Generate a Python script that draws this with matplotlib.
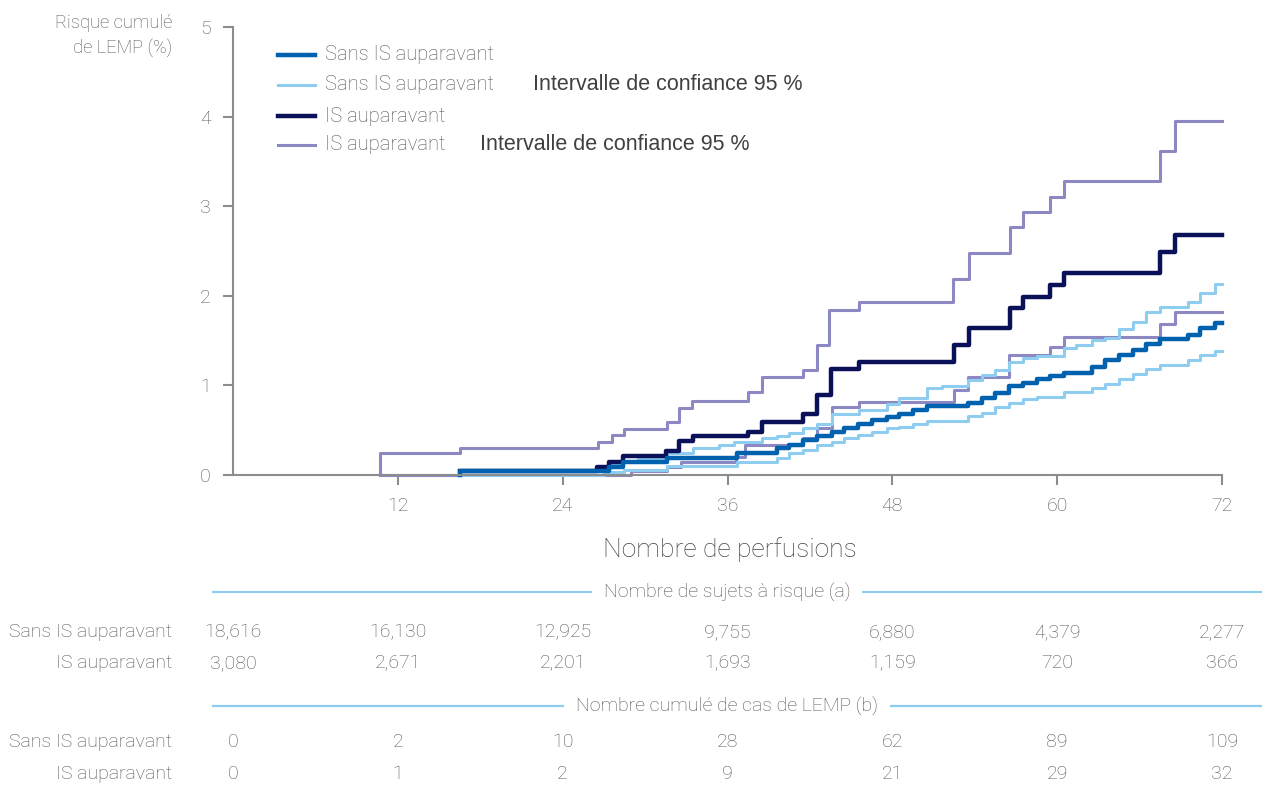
import matplotlib.pyplot as plt
from matplotlib.lines import Line2D
from matplotlib.transforms import blended_transform_factory

# step curves (x = nombre de perfusions, y = risque %)
sans_x = [16.5, 16.5, 27.4, 28.4, 31.6, 36.7, 39.6, 40.5, 41.5, 42.5, 43.6, 44.5, 45.5,
          46.5, 47.6, 48.5, 49.5, 50.5, 51.5, 53.5, 54.5, 55.5, 56.5, 57.5, 58.5, 59.5,
          60.5, 62.5, 63.5, 64.5, 65.5, 66.5, 67.5, 69.5, 70.4, 71.5, 72]
sans_y = [0, 0.04, 0.09, 0.14, 0.19, 0.24, 0.30, 0.33, 0.39, 0.44, 0.48, 0.52, 0.57,
          0.61, 0.65, 0.68, 0.73, 0.77, 0.77, 0.80, 0.86, 0.91, 0.99, 1.03, 1.07, 1.10,
          1.14, 1.21, 1.28, 1.34, 1.40, 1.46, 1.52, 1.56, 1.64, 1.70, 1.70]

sans_hi_x = [16.5, 26.5, 27.5, 28.4, 29.5, 31.6, 33.5, 35.4, 36.5, 38.5, 39.6, 40.5, 41.5,
             42.5, 43.6, 45.6, 47.6, 48.5, 50.5, 51.6, 53.5, 54.5, 55.5, 56.5, 57.5, 58.5,
             60.5, 61.4, 62.5, 63.5, 64.5, 65.5, 66.5, 67.5, 69.5, 70.4, 71.5, 72]
sans_hi_y = [0.05, 0.08, 0.11, 0.16, 0.19, 0.24, 0.30, 0.34, 0.37, 0.41, 0.44, 0.47, 0.52,
             0.57, 0.68, 0.73, 0.79, 0.86, 0.97, 0.99, 1.06, 1.12, 1.17, 1.26, 1.31, 1.33,
             1.42, 1.45, 1.51, 1.53, 1.63, 1.71, 1.82, 1.87, 1.93, 2.03, 2.13, 2.13]

sans_lo_x = [16.5, 27.0, 28.5, 31.6, 36.7, 39.6, 40.5, 41.5, 42.5, 43.6, 44.5, 45.5, 46.5,
             47.6, 48.5, 49.5, 50.5, 53.5, 54.5, 55.5, 56.5, 57.5, 58.5, 60.5, 62.5, 63.5,
             64.5, 65.5, 66.5, 67.5, 69.5, 70.4, 71.5, 72]
sans_lo_y = [0.005, 0.03, 0.06, 0.10, 0.15, 0.19, 0.24, 0.28, 0.34, 0.37, 0.41, 0.45, 0.48,
             0.52, 0.54, 0.57, 0.60, 0.66, 0.69, 0.76, 0.80, 0.85, 0.87, 0.93, 0.97, 1.02,
             1.07, 1.13, 1.18, 1.23, 1.28, 1.34, 1.38, 1.38]

is_x = [16.5, 26.5, 27.4, 28.4, 31.5, 32.5, 33.5, 37.5, 38.5, 41.5, 42.5, 43.5,
        45.6, 52.5, 53.6, 56.6, 57.5, 59.5, 60.5, 67.5, 68.6, 72]
is_y = [0.04, 0.09, 0.14, 0.21, 0.27, 0.38, 0.43, 0.48, 0.59, 0.68, 0.89, 1.18,
        1.26, 1.45, 1.64, 1.86, 1.99, 2.12, 2.26, 2.49, 2.68, 2.68]

is_hi_x = [10.7, 10.7, 16.5, 26.6, 27.6, 28.5, 31.6, 32.5, 33.4, 37.5, 38.5, 41.5, 42.5,
           43.4, 45.6, 52.4, 53.6, 56.6, 57.5, 59.5, 60.5, 67.5, 68.6, 72]
is_hi_y = [0, 0.25, 0.30, 0.37, 0.45, 0.51, 0.59, 0.75, 0.83, 0.93, 1.09, 1.17, 1.45,
           1.84, 1.93, 2.19, 2.48, 2.77, 2.94, 3.10, 3.28, 3.62, 3.95, 3.95]

is_lo_x = [10.7, 29.0, 31.6, 32.6, 36.6, 37.3, 41.5, 42.5, 43.6, 45.6, 52.5, 53.5, 56.5,
           59.5, 60.5, 67.5, 68.6, 72]
is_lo_y = [0, 0.05, 0.09, 0.15, 0.20, 0.33, 0.41, 0.52, 0.76, 0.81, 0.95, 1.09, 1.34,
           1.43, 1.54, 1.68, 1.82, 1.82]

x_ticks = [12, 24, 36, 48, 60, 72]
y_ticks = [0, 1, 2, 3, 4, 5]
table_x = [0, 12, 24, 36, 48, 60, 72]
row_names = ["Sans IS auparavant", "IS auparavant"]
at_risk = [["18,616", "16,130", "12,925", "9,755", "6,880", "4,379", "2,277"],
           ["3,080", "2,671", "2,201", "1,693", "1,159", "720", "366"]]
cases = [["0", "2", "10", "28", "62", "89", "109"],
         ["0", "1", "2", "9", "21", "29", "32"]]

BLUE = "#0062ae"
LIGHT = "#8ecdf0"
NAVY = "#0b1158"
LAV = "#8c88c3"
GREY = "#8a8c8f"
TXT = "#555555"

plt.rcParams["font.family"] = ["Roboto", "DejaVu Sans"]
plt.rcParams["font.weight"] = "light"
FS = 14

fig = plt.figure(figsize=(12.62, 7.87), dpi=100)
ax = fig.add_axes([233 / 1262, 1 - 475 / 787, (1222 - 233) / 1262, (475 - 27) / 787])

# CI first, estimates on top
ax.step(is_lo_x, is_lo_y, where="post", color=LAV, lw=2.2, clip_on=False)
ax.step(is_hi_x, is_hi_y, where="post", color=LAV, lw=2.2, clip_on=False)
ax.step(sans_hi_x, sans_hi_y, where="post", color=LIGHT, lw=2.2, clip_on=False)
ax.step(sans_lo_x, sans_lo_y, where="post", color=LIGHT, lw=2.2, clip_on=False)
ax.step(is_x, is_y, where="post", color=NAVY, lw=3.2, clip_on=False)
ax.step(sans_x, sans_y, where="post", color=BLUE, lw=3.2, clip_on=False)

ax.set_xlim(0, 72)
ax.set_ylim(0, 5)
ax.set_xticks(x_ticks)
ax.set_yticks(y_ticks)
for s in ["top", "right"]:
    ax.spines[s].set_visible(False)
for s in ["left", "bottom"]:
    ax.spines[s].set_color(GREY)
    ax.spines[s].set_linewidth(1.5)
ax.tick_params(colors=GREY, length=7, width=1.5, labelcolor=TXT, labelsize=14)
ax.tick_params(axis="y", pad=9)
ax.tick_params(axis="x", pad=9)

fig.text(172 / 1262, 1 - 14 / 787, "Risque cumulé\nde LEMP (%)", ha="right", va="top",
         fontsize=13.2, color=TXT, linespacing=1.4)

# legend, drawn by hand
legend_rows = [(55, BLUE, 3.2, "Sans IS auparavant", None),
               (85, LIGHT, 2.2, "Sans IS auparavant", 533),
               (116, NAVY, 3.2, "IS auparavant", None),
               (145, LAV, 2.2, "IS auparavant", 480)]
for py, col, lw, label, extra_x in legend_rows:
    yy = 1 - py / 787
    fig.add_artist(Line2D([278 / 1262, 315 / 1262], [yy, yy], color=col, lw=lw))
    fig.text(325 / 1262, yy, label, va="center", fontsize=14.5, color=TXT)
    if extra_x:
        fig.text(extra_x / 1262, yy, "Intervalle de confiance 95 %", va="center",
                 fontsize=15.5, color="#404040", family="Liberation Sans",
                 fontweight="normal")

fig.text(730 / 1262, 1 - 550 / 787, "Nombre de perfusions", ha="center", va="center",
         fontsize=19, color="#444444")

# tables under the chart
trans = blended_transform_factory(ax.transData, fig.transFigure)


def header(py, text):
    yy = 1 - py / 787
    fig.add_artist(Line2D([213 / 1262, 1.0], [yy, yy], color=LIGHT, lw=1.6))
    fig.text(727 / 1262, yy, text, ha="center", va="center", fontsize=FS, color=TXT,
             bbox=dict(boxstyle="square,pad=0.6", fc="white", ec="none"))


def rows(pys, values):
    for py, name, vals in zip(pys, row_names, values):
        yy = 1 - py / 787
        fig.text(172 / 1262, yy, name, ha="right", va="center", fontsize=FS, color=TXT)
        for xv, v in zip(table_x, vals):
            fig.text(xv, yy, v, transform=trans, ha="center", va="center", fontsize=FS,
                     color=TXT)


header(592, "Nombre de sujets à risque (a)")
rows([632, 663], at_risk)
header(706, "Nombre cumulé de cas de LEMP (b)")
rows([742, 774], cases)

fig.savefig("out.png", dpi=100)
